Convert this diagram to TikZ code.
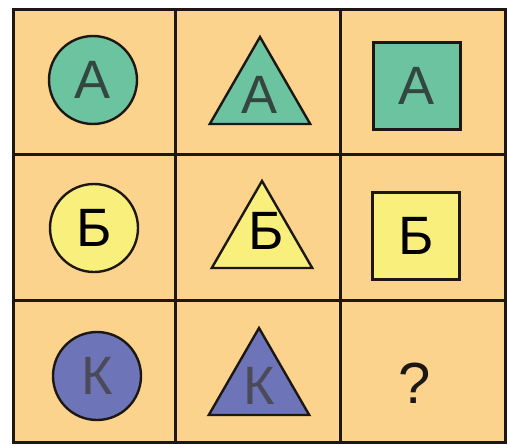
\documentclass[tikz,border=0pt]{standalone}
\usepackage{fontspec}
\usepackage{xcolor}
\usepackage{tikz}
\usetikzlibrary{shapes.geometric}
\newfontfamily\lettf{Liberation Sans}
\definecolor{cellc}{HTML}{FCD38C}
\definecolor{linec}{HTML}{1C1712}
\definecolor{grnc}{HTML}{6CC3A0}
\definecolor{yelc}{HTML}{F9EF7C}
\definecolor{bluc}{HTML}{6E74B8}
\definecolor{grnt}{HTML}{33463F}
\definecolor{blut}{HTML}{4A4A58}
\tikzset{
  fig/.style={draw=linec,line width=2.4pt,inner sep=0pt,outer sep=0pt,
    font=\lettf\fontsize{54}{54}\selectfont},
  circ/.style={fig,circle,minimum size=88pt},
  tri/.style={fig,regular polygon,regular polygon sides=3,minimum size=116pt},
  sqr/.style={fig,rectangle,minimum size=87pt}
}
\begin{document}
\begin{tikzpicture}[x=1pt,y=-1pt]
\useasboundingbox (0,0) rectangle (508,444);
% board
\fill[cellc] (13,10) rectangle (505,442);
\draw[linec,line width=3pt] (13,10) rectangle (505,442);
\foreach \xx in {175,340} \draw[linec,line width=3pt] (\xx,10) -- (\xx,442);
\foreach \yy in {154,300} \draw[linec,line width=3pt] (13,\yy) -- (505,\yy);
% row 1
\node[circ,fill=grnc,text=grnt] (cA) at (93,80) {А};
\node[tri,fill=grnc,text=grnt] (tA) at (260,95) {А};
\node[sqr,fill=grnc,text=grnt] (sA) at (417,86) {А};
% row 2
\node[circ,fill=yelc,text=black] (cB) at (94,228) {Б};
\node[tri,fill=yelc,label={[xshift=4pt,yshift=8pt,font=\lettf\fontsize{54}{54}\selectfont]center:Б}] (tB) at (262,239) {};
\node[sqr,fill=yelc,text=black] (sB) at (416,236) {Б};
% row 3
\node[circ,fill=bluc,text=blut] (cK) at (97,376) {К};
\node[tri,fill=bluc,text=blut] (tK) at (259,386) {К};
\node[font=\lettf\fontsize{58}{58}\selectfont,text=linec] (qm) at (415,383) {?};
\end{tikzpicture}
\end{document}
